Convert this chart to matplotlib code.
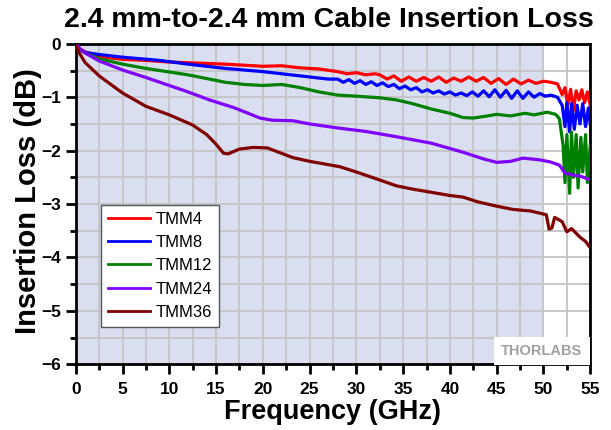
import matplotlib
matplotlib.use("Agg")
import matplotlib.pyplot as plt
from matplotlib.ticker import MultipleLocator

plt.rcParams['font.family'] = ['Liberation Sans', 'DejaVu Sans']

# TMM4 (red)
f_tmm4 = [0, 0.3, 1, 2.5, 5, 7.5, 10, 13, 16, 18, 20, 22, 24, 26, 28, 29, 30, 31, 32, 32.5,
          33.3, 34, 34.8, 35.6, 36.4, 37.2, 38, 38.8, 39.6, 40.4, 41.2, 42, 42.8, 43.6, 44.4,
          45.2, 46, 46.8, 47.6, 48.4, 49.2, 50, 50.8, 51.5, 52, 52.3, 52.6, 52.9, 53.2, 53.5,
          53.8, 54.1, 54.4, 54.7, 55]
il_tmm4 = [0, -0.08, -0.15, -0.24, -0.29, -0.31, -0.34, -0.36, -0.38, -0.40, -0.42, -0.41,
           -0.45, -0.47, -0.52, -0.56, -0.54, -0.58, -0.56, -0.58, -0.66, -0.60, -0.70, -0.62,
           -0.70, -0.63, -0.70, -0.62, -0.72, -0.64, -0.70, -0.62, -0.70, -0.63, -0.74, -0.65,
           -0.76, -0.66, -0.75, -0.68, -0.74, -0.70, -0.72, -0.75, -0.95, -0.82, -1.15, -0.85,
           -1.25, -0.88, -1.05, -0.86, -1.10, -0.90, -1.15]

# TMM8 (blue)
f_tmm8 = [0, 0.3, 1, 2.5, 5, 9, 12, 16, 20, 24, 27, 28, 28.6, 29.2, 29.8, 30.4, 31, 31.6, 32.2,
          32.8, 33.4, 34, 34.6, 35.2, 35.8, 36.4, 37, 37.6, 38.2, 38.8, 39.4, 40, 40.6, 41.2,
          41.8, 42.4, 43, 43.6, 44.2, 44.8, 45.4, 46, 46.6, 47.2, 47.8, 48.4, 49, 49.6, 50.2,
          50.8, 51.5, 52, 52.3, 52.5, 52.8, 53, 53.3, 53.6, 53.9, 54.2, 54.5, 54.8, 55]
il_tmm8 = [0, -0.10, -0.16, -0.20, -0.25, -0.31, -0.38, -0.46, -0.52, -0.60, -0.66, -0.66,
           -0.72, -0.67, -0.74, -0.69, -0.76, -0.71, -0.78, -0.73, -0.80, -0.76, -0.84, -0.79,
           -0.86, -0.82, -0.90, -0.86, -0.92, -0.88, -0.94, -0.90, -0.96, -0.92, -0.97, -0.90,
           -0.98, -0.88, -0.99, -0.86, -1.00, -0.87, -1.02, -0.88, -1.02, -0.90, -1.00, -0.93,
           -0.98, -0.96, -1.00, -1.15, -1.55, -1.10, -1.65, -1.12, -1.60, -1.15, -1.50, -1.12,
           -1.55, -1.20, -1.50]

# TMM12 (green)
f_tmm12 = [0, 0.3, 1, 2.5, 5, 7.5, 9, 12, 16, 18, 20, 22, 24, 26, 28, 30, 32.5, 34.3, 36, 38,
           40, 41.4, 42.5, 44, 45, 46.5, 48, 49, 50.4, 51.3, 51.7, 52.1, 52.3, 52.5, 52.8, 53,
           53.2, 53.5, 53.7, 54, 54.2, 54.5, 54.7, 55]
il_tmm12 = [0, -0.08, -0.17, -0.28, -0.38, -0.46, -0.50, -0.58, -0.72, -0.76, -0.78, -0.76,
            -0.82, -0.90, -0.96, -0.98, -1.01, -1.05, -1.12, -1.22, -1.30, -1.38, -1.39, -1.35,
            -1.32, -1.35, -1.30, -1.33, -1.28, -1.32, -1.40, -1.90, -2.60, -1.70, -2.80, -1.65,
            -2.50, -1.70, -2.70, -1.75, -2.40, -1.70, -2.60, -1.90]

# TMM24 (purple)
f_tmm24 = [0, 0.5, 1, 2.5, 5, 7.5, 9, 12, 14.3, 17, 19.7, 21, 23.2, 25, 28.2, 31, 34.3, 38,
           41.4, 43.5, 45, 46.5, 47.8, 49.5, 50.7, 51.7, 52.3, 53, 54, 55]
il_tmm24 = [0, -0.10, -0.17, -0.32, -0.49, -0.63, -0.72, -0.90, -1.05, -1.20, -1.39, -1.43,
            -1.44, -1.50, -1.58, -1.64, -1.74, -1.86, -2.03, -2.15, -2.22, -2.20, -2.14, -2.17,
            -2.21, -2.27, -2.42, -2.45, -2.48, -2.55]

# TMM36 (dark red)
f_tmm36 = [0, 0.3, 1, 2.5, 5, 7.5, 10, 12.5, 14, 15, 15.8, 16.3, 17.5, 19, 20.5, 22, 23.2, 25,
           28.2, 30, 32, 34.3, 36, 38, 40, 41.4, 43, 45, 46.7, 48.6, 50.3, 50.6, 50.9, 51.2,
           52, 52.5, 53, 53.5, 53.9, 54.5, 55]
il_tmm36 = [0, -0.15, -0.35, -0.60, -0.92, -1.17, -1.33, -1.52, -1.70, -1.88, -2.05, -2.06,
            -1.97, -1.94, -1.95, -2.05, -2.13, -2.20, -2.30, -2.40, -2.52, -2.66, -2.72, -2.78,
            -2.84, -2.87, -2.96, -3.04, -3.10, -3.13, -3.20, -3.47, -3.45, -3.25, -3.33, -3.52,
            -3.46, -3.55, -3.62, -3.70, -3.82]

series = [
    ("TMM4", f_tmm4, il_tmm4, "#ff0000"),
    ("TMM8", f_tmm8, il_tmm8, "#0000ff"),
    ("TMM12", f_tmm12, il_tmm12, "#008000"),
    ("TMM24", f_tmm24, il_tmm24, "#8000ff"),
    ("TMM36", f_tmm36, il_tmm36, "#800000"),
]

fig = plt.figure(figsize=(6.11, 4.30), dpi=100)
ax = fig.add_axes([0.124, 0.153, 0.842, 0.745])

ax.axvspan(0, 50, color="#d9dff0", zorder=0, lw=0)

for name, f, il, col in series:
    ax.plot(f, il, color=col, lw=2.3, label=name, zorder=3)

ax.set_xlim(0, 55)
ax.set_ylim(-6, 0)
ax.xaxis.set_major_locator(MultipleLocator(5))
ax.xaxis.set_minor_locator(MultipleLocator(2.5))
ax.yaxis.set_major_locator(MultipleLocator(1))
ax.yaxis.set_minor_locator(MultipleLocator(0.5))
ax.grid(which="both", color="#c4c4c4", lw=1.3, zorder=1)
ax.set_axisbelow(True)

for sp in ax.spines.values():
    sp.set_linewidth(2)
ax.tick_params(which="major", length=7, width=2, direction="out", labelsize=12.5)
ax.tick_params(which="minor", length=4, width=2, direction="out")
ax.tick_params(axis="x", which="major", pad=6)
for lab in ax.get_xticklabels() + ax.get_yticklabels():
    lab.set_fontweight("bold")

fig.text(0.538, 0.953, "2.4 mm-to-2.4 mm Cable Insertion Loss", ha="center", va="center",
         fontsize=20.5, fontweight="bold")
ax.set_xlabel("Frequency (GHz)", fontsize=19.5, fontweight="bold")
ax.xaxis.set_label_coords(0.5, -0.108)
ax.set_ylabel("Insertion Loss (dB)", fontsize=21, fontweight="bold")
ax.yaxis.set_label_coords(-0.066, 0.51)

leg = ax.legend(loc="upper left", bbox_to_anchor=(0.05, 0.497), fontsize=12,
                handlelength=2.5, handletextpad=0.35, fancybox=False, framealpha=1,
                edgecolor="#555555", borderpad=0.4, labelspacing=0.5, borderaxespad=0)
leg.get_frame().set_linewidth(1)
for ln in leg.get_lines():
    ln.set_linewidth(2)

ax.text(0.985, 0.02, "THORLABS", transform=ax.transAxes, ha="right", va="bottom",
        fontsize=10.5, fontweight="bold", color="#a0a0a0", zorder=4,
        bbox=dict(facecolor="white", edgecolor="none", pad=5))

fig.savefig("out.png", dpi=100)
